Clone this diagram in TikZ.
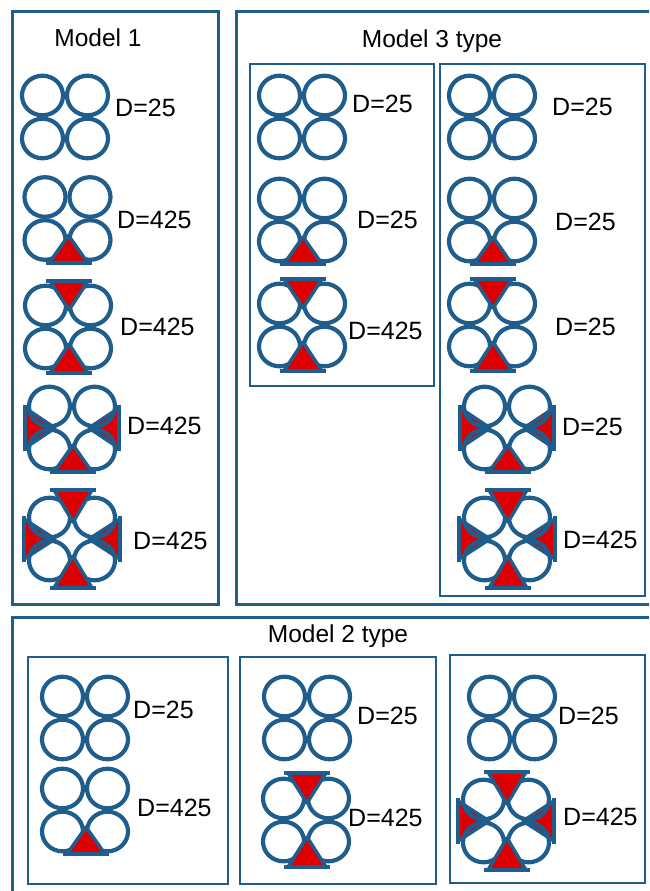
\documentclass[tikz,border=0pt]{standalone}
\usepackage{fontspec}
\setmainfont{Liberation Sans}
\definecolor{tblue}{RGB}{30,93,140}
\definecolor{tred}{RGB}{222,0,0}
\tikzset{
  outerbox/.style={draw=tblue, line width=3pt},
  innerbox/.style={draw=tblue, line width=2pt},
  lbl/.style={anchor=west, inner sep=0pt, font=\fontsize{25}{25}\selectfont},
  ttl/.style={inner sep=0pt, font=\fontsize{24.5}{25}\selectfont},
  tri/.style={fill=tred, draw=tblue, line width=3.5pt, line join=round},
  bar/.style={draw=tblue, line width=4pt},
  ring/.style={draw=tblue, line width=4.2pt},
  pics/quad/.style={code={
    \draw[ring] (-22.5,-21.5) ellipse [x radius=20.5, y radius=19.8];
    \draw[ring] (22.5,-21.5) ellipse [x radius=20.5, y radius=19.8];
    \draw[ring] (-22.5,21.5) ellipse [x radius=20.5, y radius=19.8];
    \draw[ring] (22.5,21.5) ellipse [x radius=20.5, y radius=19.8];
  }},
  pics/tbot/.style={code={
    \draw[tri] (1,17) -- (-18,#1) -- (20,#1) -- cycle;
    \draw[bar] (-22,#1) -- (24,#1);
  }},
  pics/tbot/.default=44,
  pics/ttop/.style={code={
    \draw[tri] (1,-17) -- (-18,-#1) -- (20,-#1) -- cycle;
    \draw[bar] (-22,-#1) -- (24,-#1);
  }},
  pics/ttop/.default=44,
  pics/tsides/.style={code={
    \draw[tri] (-17,0) -- (-#1,-20) -- (-#1,20) -- cycle;
    \draw[bar] (-#1,-23) -- (-#1,23);
    \draw[tri] (17,0) -- (#1,-20) -- (#1,20) -- cycle;
    \draw[bar] (#1,-23) -- (#1,23);
  }},
  pics/tsides/.default=47,
}
\begin{document}
\begin{tikzpicture}[x=1pt,y=-1pt]
\clip (0,0) rectangle (649,891);
\fill[white] (0,0) rectangle (649,891);
% outer boxes
\draw[outerbox] (12,12) rectangle (218,604);
\draw[outerbox] (236,12) rectangle (660,604);
\draw[outerbox] (12,617) rectangle (660,905);
% inner boxes
\draw[innerbox] (250,64) rectangle (434,386);
\draw[innerbox] (440,64) rectangle (645,596);
\draw[innerbox] (28,657) rectangle (228,884);
\draw[innerbox] (240,657) rectangle (436,884);
\draw[innerbox] (450,655) rectangle (645,883);
% titles
\node[ttl] (t1) at (98,38) {Model 1};
\node[ttl] (t3) at (432,41) {Model 3 type};
\node[ttl] (t2) at (338,636) {Model 2 type};
% Model 1
\pic at (65,117) {quad};
\node[lbl] (m1a) at (115,108) {D=25};
\pic at (67.5,218.5) {quad}; \pic at (67.5,218.5) {tbot};
\node[lbl] (m1b) at (117,220) {D=425};
\pic at (68,327) {quad}; \pic at (68,327) {ttop=46}; \pic at (68,327) {tbot=46};
\node[lbl] (m1c) at (120,327) {D=425};
\pic at (72,428) {tsides}; \pic at (72,428) {quad}; \pic at (72,428) {tbot};
\node[lbl] (m1d) at (127,426) {D=425};
\pic at (72,539) {tsides=48}; \pic at (72,539) {quad}; \pic at (72,539) {ttop=49}; \pic at (72,539) {tbot=49};
\node[lbl] (m1e) at (133,541) {D=425};
% Model 3 box A
\pic at (302,117) {quad};
\node[lbl] (a1) at (352,104) {D=25};
\pic at (302,220) {quad}; \pic at (302,220) {tbot};
\node[lbl] (a2) at (357,220) {D=25};
\pic at (302,325) {quad}; \pic at (302,325) {ttop=46}; \pic at (302,325) {tbot=46};
\node[lbl] (a3) at (348,331) {D=425};
% Model 3 box B
\pic at (492,117) {quad};
\node[lbl] (b1) at (552,107) {D=25};
\pic at (492,220) {quad}; \pic at (492,220) {tbot};
\node[lbl] (b2) at (555,222) {D=25};
\pic at (492,325) {quad}; \pic at (492,325) {ttop=46}; \pic at (492,325) {tbot=46};
\node[lbl] (b3) at (555,327) {D=25};
\pic at (507,428) {tsides}; \pic at (507,428) {quad}; \pic at (507,428) {tbot};
\node[lbl] (b4) at (562,427) {D=25};
\pic at (507,539) {tsides=48}; \pic at (507,539) {quad}; \pic at (507,539) {ttop=49}; \pic at (507,539) {tbot=49};
\node[lbl] (b5) at (563,540) {D=425};
% Model 2 box C
\pic at (85,718) {quad};
\node[lbl] (c1) at (133,710) {D=25};
\pic at (85,810) {quad}; \pic at (85,810) {tbot};
\node[lbl] (c2) at (137,808) {D=425};
% Model 2 box D
\pic at (307,718) {quad};
\node[lbl] (d1) at (357,716) {D=25};
\pic at (306,820) {quad}; \pic at (306,820) {ttop=47}; \pic at (306,820) {tbot=47};
\node[lbl] (d2) at (348,818) {D=425};
% Model 2 box E
\pic at (512,718) {quad};
\node[lbl] (e1) at (558,716) {D=25};
\pic at (506,821) {tsides=48}; \pic at (506,821) {quad}; \pic at (506,821) {ttop=49}; \pic at (506,821) {tbot=49};
\node[lbl] (e2) at (563,817) {D=425};
\end{tikzpicture}
\end{document}
